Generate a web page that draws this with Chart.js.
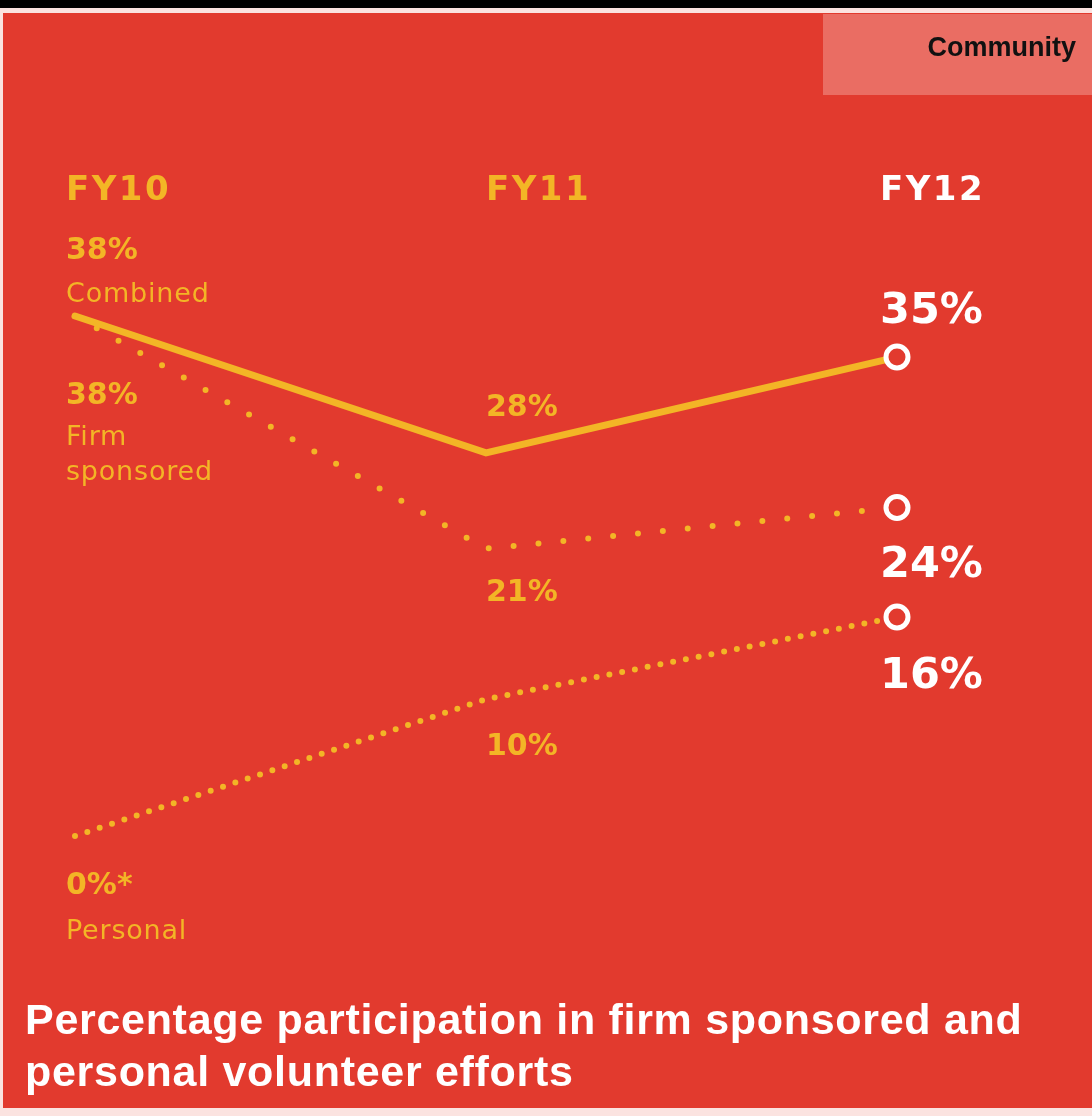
<!DOCTYPE html>
<html>
<head>
  <title>Community volunteer participation</title>
  <script src="https://cdn.jsdelivr.net/npm/chart.js@4/dist/chart.umd.min.js"></script>
  <style>
    body { margin: 0; background: #fff; }
    canvas { display: block; }
  </style>
  <script>
    // chart data
    var years = ['FY10', 'FY11', 'FY12'];
    var combined = [38, 28, 35];
    var firmSponsored = [38, 21, 24];
    var personal = [0, 10, 16];
    var seriesNames = [['Combined'], ['Firm', 'sponsored'], ['Personal']];
    var valueSuffix = [['%', '%', '%'], ['%', '%', '%'], ['%*', '%', '%']];
    var tabLabel = 'Community';
    var titleLines = ['Percentage participation in firm sponsored and', 'personal volunteer efforts'];

    var RED = '#E23A2E';
    var YELLOW = '#F3B526';
    var WHITE = '#FFFFFF';

    function drawChart() {
      var ctx = document.getElementById('volunteer').getContext('2d');

      // frame, tab and title
      var framePlugin = {
        id: 'frame',
        beforeDraw: function(chart) {
          var c = chart.ctx;
          c.save();
          c.fillStyle = '#fbe3e0';
          c.fillRect(0, 0, 1092, 1116);
          c.fillStyle = '#000';
          c.fillRect(0, 0, 1092, 8);
          c.fillStyle = RED;
          c.fillRect(3, 13, 1089, 1095);
          c.fillStyle = '#EA6D63';
          c.fillRect(823, 14, 269, 81);
          c.restore();
        },
        afterDraw: function(chart) {
          var c = chart.ctx;
          c.save();
          c.textBaseline = 'middle';
          c.fillStyle = '#111';
          c.font = 'bold 27px "Liberation Sans", Arial, sans-serif';
          c.textAlign = 'right';
          c.fillText(tabLabel, 1076, 49);
          c.textAlign = 'left';
          c.fillStyle = WHITE;
          c.font = 'bold 43px "Liberation Sans", Arial, sans-serif';
          c.letterSpacing = '0.7px';
          titleLines.forEach(function(line, i) {
            c.fillText(line, 25, 1022 + i * 52);
          });
          c.restore();
        }
      };

      // column headers and value labels
      var colShift = [-9, 0, -17];
      // vertical offset of each value label from its point: [series][year]
      var valueOffset = [[-65, -45, -45], [80, 45, 58], [50, 48, 60]];
      var nameOffset = [[-21], [122, 157], [96]];

      var labelPlugin = {
        id: 'labels',
        afterDatasetsDraw: function(chart) {
          var c = chart.ctx;
          var xs = chart.scales.x;
          var ys = chart.scales.y;
          c.save();
          c.textBaseline = 'middle';
          c.textAlign = 'left';

          years.forEach(function(y, i) {
            c.fillStyle = i === years.length - 1 ? WHITE : YELLOW;
            c.font = 'bold 34px "DejaVu Sans", sans-serif';
            c.letterSpacing = '2.5px';
            c.fillText(y, xs.getPixelForValue(i) + colShift[i], 191);
          });
          c.letterSpacing = '0px';

          var all = [combined, firmSponsored, personal];
          all.forEach(function(series, s) {
            series.forEach(function(v, i) {
              var x = xs.getPixelForValue(i) + colShift[i];
              var py = ys.getPixelForValue(v);
              var last = i === series.length - 1;
              c.fillStyle = last ? WHITE : YELLOW;
              c.font = last ? 'bold 43px "DejaVu Sans", sans-serif' : 'bold 30px "DejaVu Sans", sans-serif';
              c.fillText(v + valueSuffix[s][i], x, py + valueOffset[s][i]);
            });
            c.fillStyle = YELLOW;
            c.font = '27px "DejaVu Sans", sans-serif';
            c.letterSpacing = '0.8px';
            seriesNames[s].forEach(function(name, k) {
              c.fillText(name, xs.getPixelForValue(0) + colShift[0], ys.getPixelForValue(series[0]) + nameOffset[s][k]);
            });
            c.letterSpacing = '0px';
          });
          c.restore();
        }
      };

      function endPoints(n) {
        return years.map(function(_, i) { return i === years.length - 1 ? n : 0; });
      }

      var chart = new Chart(ctx, {
        type: 'line',
        data: {
          labels: years,
          datasets: [{
            label: 'Combined',
            data: combined,
            borderColor: YELLOW,
            borderWidth: 7,
            borderCapStyle: 'round',
            pointRadius: endPoints(11),
            pointBorderWidth: 5,
            pointBorderColor: WHITE,
            pointBackgroundColor: RED,
            tension: 0,
            clip: false
          }, {
            label: 'Firm sponsored',
            data: firmSponsored,
            borderColor: YELLOW,
            borderWidth: 6,
            borderDash: [0, 25],
            borderCapStyle: 'round',
            pointRadius: endPoints(11),
            pointBorderWidth: 5,
            pointBorderColor: WHITE,
            pointBackgroundColor: RED,
            tension: 0,
            clip: false
          }, {
            label: 'Personal',
            data: personal,
            borderColor: YELLOW,
            borderWidth: 6,
            borderDash: [0, 13],
            borderCapStyle: 'round',
            pointRadius: endPoints(11),
            pointBorderWidth: 5,
            pointBorderColor: WHITE,
            pointBackgroundColor: RED,
            tension: 0,
            clip: false
          }]
        },
        options: {
          responsive: false,
          animation: false,
          layout: { padding: { left: 75, right: 195, top: 316, bottom: 280 } },
          plugins: { legend: { display: false }, tooltip: { enabled: false } },
          scales: {
            x: { display: false, offset: false },
            y: { display: false, min: 0, max: 38 }
          }
        },
        plugins: [framePlugin, labelPlugin]
      });
      return chart;
    }
    window.onload = drawChart;
  </script>
</head>
<body>
  <canvas id="volunteer" width="1092" height="1116"></canvas>
</body>
</html>
